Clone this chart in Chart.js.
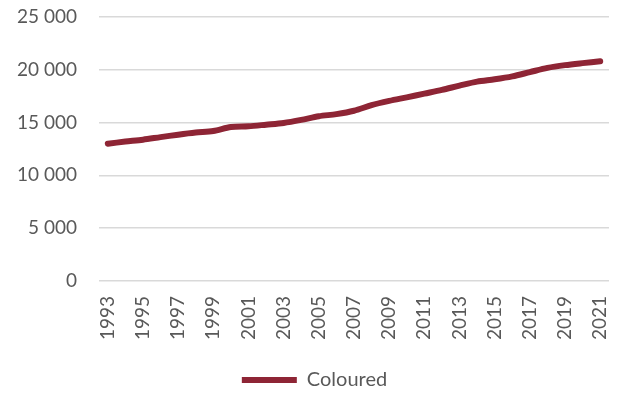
<!DOCTYPE html>
<html>
<head>
<meta charset="utf-8">
<script src="https://cdn.jsdelivr.net/npm/chart.js@4.4.1/dist/chart.umd.min.js"></script>
<style>
html,body{margin:0;padding:0;background:#fff;}
#wrap{width:618px;height:396px;position:relative;}
</style>
</head>
<body>
<div id="wrap"><canvas id="c" width="618" height="396"></canvas></div>
<script>
const years = [1993,1994,1995,1996,1997,1998,1999,2000,2001,2002,2003,2004,2005,2006,2007,2008,2009,2010,2011,2012,2013,2014,2015,2016,2017,2018,2019,2020,2021];
const seriesName = 'Coloured';
const colouredValues = [13000,13200,13380,13620,13850,14050,14200,14580,14650,14800,14960,15250,15600,15800,16120,16650,17050,17390,17740,18090,18500,18880,19100,19380,19780,20180,20440,20630,20800];
const yTicks = [0,5000,10000,15000,20000,25000];

const FONT = 'Lato, "Open Sans", sans-serif';
const TXT = '#595959';
const LINE = '#8e2535';

function fmt(v){ return String(v).replace(/\B(?=(\d{3})+(?!\d))/g, ' '); }

const legendShift = {
  id: 'legendShift',
  afterLayout(chart){
    const lg = chart.legend;
    if (lg) { lg.left += 10; lg.right += 10; lg.top += 4; lg.bottom += 4; }
  }
};

new Chart(document.getElementById('c'), {
  type: 'line',
  data: {
    labels: years.map(String),
    datasets: [{
      label: seriesName,
      data: colouredValues,
      borderColor: LINE,
      backgroundColor: LINE,
      borderWidth: 6,
      borderCapStyle: 'round',
      borderJoinStyle: 'round',
      pointRadius: 0,
      tension: 0.3,
      fill: false
    }]
  },
  options: {
    responsive: false,
    animation: false,
    devicePixelRatio: 1,
    layout: { padding: { top: 17, right: 9, left: 0, bottom: 0 } },
    plugins: {
      tooltip: { enabled: false },
      legend: {
        position: 'bottom',
        labels: {
          color: TXT,
          font: { family: FONT, size: 20 },
          boxWidth: 55,
          boxHeight: 6,
          useBorderRadius: true,
          borderRadius: 3,
          padding: 2,
          generateLabels(chart){
            return [{ text: seriesName, fillStyle: LINE, strokeStyle: LINE, lineWidth: 0, hidden: false, datasetIndex: 0, fontColor: TXT }];
          }
        }
      }
    },
    scales: {
      x: {
        offset: true,
        grid: { display: false, drawTicks: false },
        border: { display: false },
        afterFit(scale){ scale.paddingLeft = 0; scale.paddingRight = 0; scale.height += 9; },
        ticks: {
          color: TXT,
          font: { family: FONT, size: 19 },
          autoSkip: false,
          minRotation: 90,
          maxRotation: 90,
          padding: 15,
          callback(v, i){ return i % 2 === 0 ? this.getLabelForValue(v) : ''; }
        }
      },
      y: {
        min: 0,
        max: 25000,
        afterBuildTicks(scale){ scale.ticks = yTicks.map(v => ({ value: v })); },
        afterFit(scale){ scale.width = 99; scale.paddingTop = 0; scale.paddingBottom = 0; },
        grid: { color: '#d9d9d9', lineWidth: 1.5, drawTicks: false },
        border: { display: false },
        ticks: {
          color: TXT,
          font: { family: FONT, size: 19 },
          padding: 22,
          callback(v){ return fmt(v); }
        }
      }
    }
  },
  plugins: [legendShift]
});
</script>
</body>
</html>
